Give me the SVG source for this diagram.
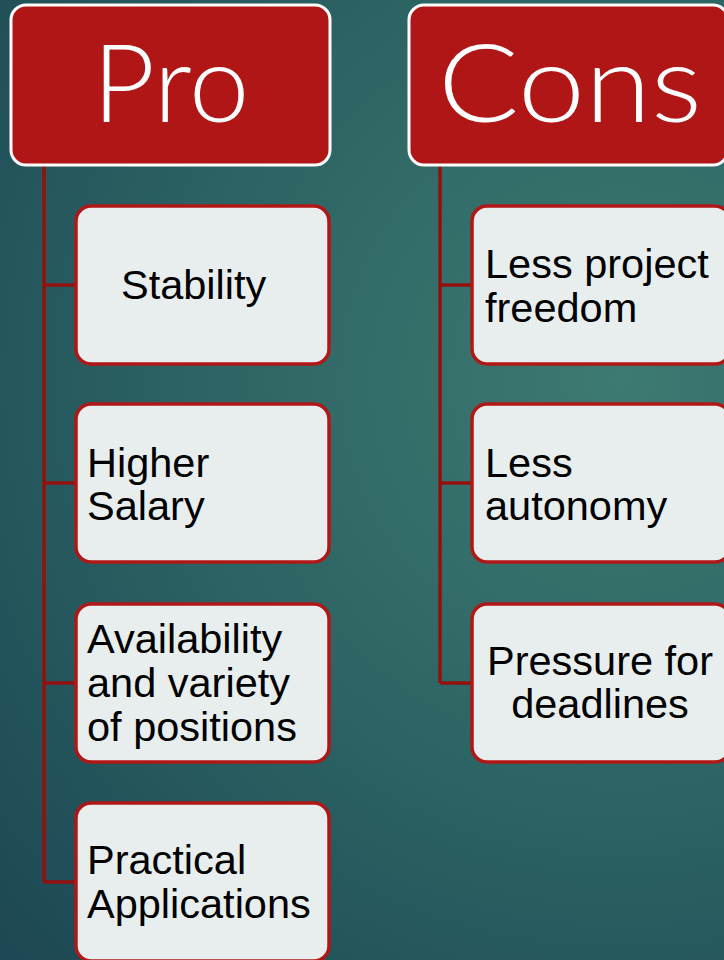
<svg xmlns="http://www.w3.org/2000/svg" width="724" height="960" viewBox="0 0 724 960">
  <defs>
    <radialGradient id="bg" cx="620" cy="380" r="860" gradientUnits="userSpaceOnUse">
      <stop offset="0" stop-color="#3d7a71"/>
      <stop offset="0.5" stop-color="#2c6363"/>
      <stop offset="1" stop-color="#1c4653"/>
    </radialGradient>
  </defs>
  <style>
    .head rect { fill: #b11616; stroke: #ffffff; stroke-width: 3; }
    .head text { fill: #ffffff; font-family: Lato, "Open Sans", sans-serif; font-weight: 300; font-size: 108px; text-anchor: middle; }
    .item rect { fill: #e8eeee; stroke: #b01717; stroke-width: 3.5; }
    .item text { fill: #000000; font-family: "Liberation Sans", Arial, sans-serif; font-size: 41.5px; }
    .conn path { fill: none; stroke: #921010; stroke-width: 3.5; }
  </style>
  <rect x="0" y="0" width="724" height="960" fill="url(#bg)"/>

  <g class="conn" id="connectors">
    <path d="M44 166 V882 M44 285 H75 M44 483 H75 M44 683 H75 M44 882 H75"/>
    <path d="M440 166 V683 M440 285 H472 M440 483 H472 M440 683 H472"/>
  </g>

  <g class="head" id="pro">
    <rect x="11" y="5" width="319" height="160" rx="15"/>
    <text x="171" y="122" textLength="157" lengthAdjust="spacingAndGlyphs">Pro</text>
  </g>
  <g class="head" id="cons">
    <rect x="409" y="5" width="319" height="160" rx="15"/>
    <text x="570" y="122" textLength="264" lengthAdjust="spacingAndGlyphs">Cons</text>
  </g>

  <g class="item" id="stability">
    <rect x="76" y="206" width="253" height="158" rx="15"/>
    <text x="121" y="299">Stability</text>
  </g>
  <g class="item" id="higher-salary">
    <rect x="76" y="404" width="253" height="158" rx="15"/>
    <text><tspan x="87" y="477">Higher</tspan><tspan x="87" y="520">Salary</tspan></text>
  </g>
  <g class="item" id="availability">
    <rect x="76" y="604" width="253" height="158" rx="15"/>
    <text><tspan x="87" y="653">Availability</tspan><tspan x="87" y="697">and variety</tspan><tspan x="87" y="741">of positions</tspan></text>
  </g>
  <g class="item" id="practical">
    <rect x="76" y="803" width="253" height="158" rx="15"/>
    <text><tspan x="87" y="874">Practical</tspan><tspan x="87" y="918">Applications</tspan></text>
  </g>

  <g class="item" id="less-freedom">
    <rect x="472" y="206" width="258" height="158" rx="15"/>
    <text><tspan x="485" y="278">Less project</tspan><tspan x="485" y="322">freedom</tspan></text>
  </g>
  <g class="item" id="less-autonomy">
    <rect x="472" y="404" width="258" height="158" rx="15"/>
    <text><tspan x="485" y="477">Less</tspan><tspan x="485" y="520">autonomy</tspan></text>
  </g>
  <g class="item" id="pressure">
    <rect x="472" y="604" width="258" height="158" rx="15"/>
    <text text-anchor="middle"><tspan x="600" y="675">Pressure for</tspan><tspan x="600" y="718">deadlines</tspan></text>
  </g>
</svg>
